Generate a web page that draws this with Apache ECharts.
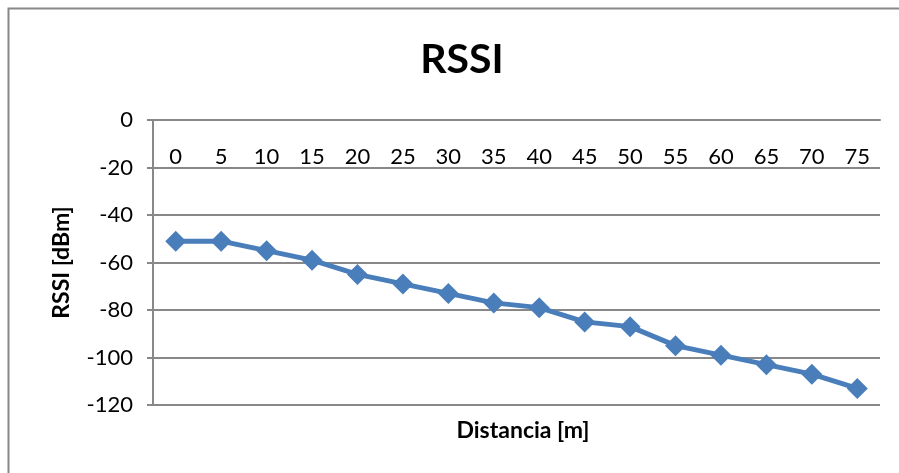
<!DOCTYPE html>
<html><head><meta charset="utf-8">
<script src="https://cdn.jsdelivr.net/npm/echarts@6/dist/echarts.min.js"></script>
<style>html,body{margin:0;padding:0;background:#fff}#c{width:899px;height:473px}</style>
</head><body><div id="c"></div>
<script>
const categories = ['0','5','10','15','20','25','30','35','40','45','50','55','60','65','70','75'];
const rssi = [-51,-51,-55,-59,-65,-69,-73,-77,-79,-85,-87,-95,-99,-103,-107,-113];
const titleText = 'RSSI';
const xName = 'Distancia [m]';
const yName = 'RSSI [dBm]';
const FONT = 'Lato, "Open Sans", sans-serif';
const chart = echarts.init(document.getElementById('c'));
chart.setOption({
  backgroundColor: '#fff',
  animation: false,
  graphic: [{type:'rect', shape:{x:8.5,y:8.5,width:1000,height:1000}, style:{fill:'none', stroke:'#888', lineWidth:2}}],
  title: [
    {text: titleText, left: 457, top: 34, textAlign:'center', textStyle:{fontFamily:FONT, fontSize:41, fontWeight:'bold', color:'#000'}},
    {text: xName, left: 518, top: 414, textAlign:'center', textStyle:{fontFamily:FONT, fontSize:23, fontWeight:'bold', color:'#000'}}
  ],
  grid: {left:153, right:19, top:120, bottom:68},
  xAxis: {
    type:'category', data: categories, boundaryGap:true, position:'top',
    axisLine:{show:true, lineStyle:{color:'#888', width:2}},
    axisTick:{show:false},
    axisLabel:{inside:true, margin:26, fontFamily:FONT, fontSize:22, color:'#000'},
    splitLine:{show:false}
  },
  yAxis: {
    type:'value', min:-120, max:0, interval:20,
    name: yName, nameLocation:'middle', nameGap:80, nameRotate:90,
    nameTextStyle:{fontFamily:FONT, fontSize:23, fontWeight:'bold', color:'#000'},
    axisLine:{show:true, lineStyle:{color:'#888', width:2}},
    axisTick:{show:true, length:6, lineStyle:{color:'#888', width:2}},
    axisLabel:{margin:20, fontFamily:FONT, fontSize:22, color:'#000'},
    splitLine:{show:true, lineStyle:{color:'#888', width:2}}
  },
  series: [{
    type:'line', data: rssi,
    symbol:'diamond', symbolSize:21,
    lineStyle:{color:'#4a7ebb', width:5},
    itemStyle:{color:'#4a7ebb'}
  }]
});
</script></body></html>
